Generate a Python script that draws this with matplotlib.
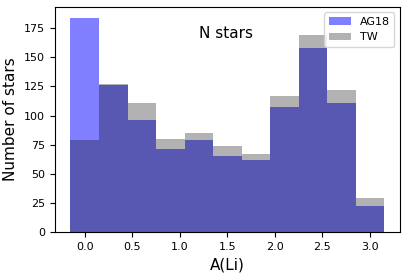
import numpy as np
import matplotlib.pyplot as plt

# Histogram counts (bin width 0.3)
bin_edges = np.array([-0.15, 0.15, 0.45, 0.75, 1.05, 1.35, 1.65, 1.95, 2.25, 2.55, 2.85, 3.15])
ag18_counts = [184, 126, 96, 71, 79, 65, 62, 107, 158, 111, 22]
tw_counts = [79, 127, 111, 80, 85, 74, 67, 117, 169, 122, 29]

centers = 0.5 * (bin_edges[:-1] + bin_edges[1:])

fig, ax = plt.subplots(figsize=(4.09, 2.77), dpi=100)
fig.subplots_adjust(left=0.134, right=0.978, top=0.975, bottom=0.162)

ax.hist(centers, bins=bin_edges, weights=ag18_counts, color='blue', alpha=0.5, label='AG18')
ax.hist(centers, bins=bin_edges, weights=tw_counts, color='black', alpha=0.3, label='TW')

ax.text(1.2, 170, 'N stars', fontsize=11, va='center')
ax.set_xlabel('A(Li)', fontsize=11)
ax.set_ylabel('Number of stars', fontsize=11)
ax.tick_params(labelsize=8)
ax.legend(loc='upper right', fontsize=8)

fig.savefig('out.png', dpi=100)
